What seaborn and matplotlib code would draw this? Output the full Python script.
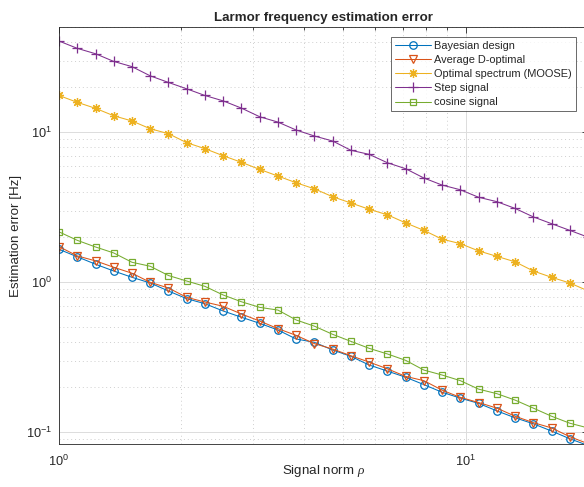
import numpy as np
import pandas as pd
import matplotlib
matplotlib.use("Agg")
import matplotlib.pyplot as plt
from matplotlib.ticker import LogLocator, NullFormatter
import seaborn as sns

# ---- data -------------------------------------------------------------
rho = [1.000, 1.109, 1.230, 1.363, 1.512, 1.676, 1.859, 2.061, 2.285, 2.534,
       2.810, 3.116, 3.455, 3.831, 4.248, 4.710, 5.223, 5.791, 6.421, 7.120,
       7.895, 8.754, 9.707, 10.763, 11.935, 13.234, 14.674, 16.271, 18.042, 20.0]

bayesian = [1.66, 1.48, 1.32, 1.19, 1.08, 0.99, 0.875, 0.778, 0.720, 0.644,
            0.585, 0.533, 0.481, 0.419, 0.398, 0.354, 0.321, 0.281, 0.256, 0.233,
            0.208, 0.185, 0.169, 0.156, 0.139, 0.125, 0.114, 0.102, 0.0906, 0.0817]

d_optimal = [1.73, 1.50, 1.39, 1.26, 1.15, 1.00, 0.916, 0.794, 0.739, 0.692,
             0.615, 0.552, 0.491, 0.443, 0.390, 0.359, 0.324, 0.294, 0.265, 0.236,
             0.221, 0.191, 0.171, 0.158, 0.145, 0.128, 0.116, 0.107, 0.0935, 0.084]

moose = [17.6, 15.85, 14.45, 12.9, 11.9, 10.57, 9.79, 8.53, 7.78, 6.98,
         6.31, 5.66, 5.11, 4.61, 4.20, 3.72, 3.38, 3.07, 2.82, 2.49,
         2.22, 1.94, 1.81, 1.62, 1.49, 1.37, 1.19, 1.08, 0.99, 0.877]

step = [40.6, 36.3, 33.4, 29.7, 27.4, 23.8, 21.5, 19.5, 17.6, 16.2,
        14.5, 12.7, 11.7, 10.36, 9.45, 8.75, 7.59, 7.13, 6.27, 5.72,
        4.96, 4.45, 4.14, 3.69, 3.45, 3.11, 2.73, 2.46, 2.22, 2.0]

cosine = [2.17, 1.905, 1.72, 1.57, 1.36, 1.28, 1.11, 1.02, 0.94, 0.823,
          0.742, 0.681, 0.653, 0.561, 0.510, 0.450, 0.404, 0.363, 0.333, 0.302,
          0.260, 0.241, 0.221, 0.194, 0.181, 0.164, 0.145, 0.128, 0.115, 0.107]

labels = ["Bayesian design", "Average D-optimal", "Optimal spectrum (MOOSE)",
          "Step signal", "cosine signal"]
series = [bayesian, d_optimal, moose, step, cosine]

colors = ["#0072BD", "#D95319", "#EDB120", "#7E2F8E", "#77AC30"]
markers = ["o", "v", (8, 2, 0), "+", "s"]
msizes = [5.4, 5.4, 6.5, 7.5, 5.0]

# ---- style ------------------------------------------------------------
sns.set_style("white")
plt.rcParams["font.family"] = ["Liberation Sans", "DejaVu Sans"]
plt.rcParams["mathtext.fontset"] = "custom"
plt.rcParams["mathtext.it"] = "Liberation Serif:italic"
plt.rcParams["mathtext.rm"] = "Liberation Sans"

fig = plt.figure(figsize=(5.84, 4.87), dpi=100)
ax = fig.add_axes([59 / 584, 42.7 / 487, 529 / 584, 417.6 / 487])

df_list = []
for lab, vals in zip(labels, series):
    df_list.append(pd.DataFrame({"rho": rho, "err": vals, "method": lab}))
df = pd.concat(df_list, ignore_index=True)

for lab, col, mk, ms in zip(labels, colors, markers, msizes):
    sub = df[df["method"] == lab]
    sns.lineplot(data=sub, x="rho", y="err", ax=ax, color=col, marker=mk,
                 markersize=ms, markerfacecolor="none", markeredgecolor=col,
                 markeredgewidth=0.9, linewidth=0.75, label=lab,
                 estimator=None, sort=False)

ax.set_xscale("log")
ax.set_yscale("log")
ax.set_xlim(1, 20)
ax.set_ylim(0.0832, 50.6)

# grids
ax.xaxis.set_major_locator(LogLocator(base=10, numticks=10))
ax.yaxis.set_major_locator(LogLocator(base=10, numticks=10))
ax.xaxis.set_minor_locator(LogLocator(base=10, subs=np.arange(2, 10), numticks=20))
ax.yaxis.set_minor_locator(LogLocator(base=10, subs=np.arange(2, 10), numticks=20))
ax.xaxis.set_minor_formatter(NullFormatter())
ax.yaxis.set_minor_formatter(NullFormatter())
ax.grid(True, which="major", color="#dcdcdc", linewidth=0.7, linestyle="-")
ax.grid(True, which="minor", color="#cfcfcf", linewidth=0.7, linestyle=(0, (1, 3)))
ax.set_axisbelow(True)

for sp in ax.spines.values():
    sp.set_color("#262626")
    sp.set_linewidth(0.6)
ax.tick_params(which="both", direction="in", top=True, right=True,
               colors="#262626", labelsize=9.2, width=0.6)
ax.tick_params(which="major", length=4.5)
ax.tick_params(which="minor", length=2.5)
ax.tick_params(axis="x", which="major", pad=7)
ax.tick_params(axis="y", which="major", pad=5)

ax.set_xlabel(r"Signal norm $\rho$", fontsize=9.6)
ax.xaxis.set_label_coords(0.5, -0.045)
ax.set_ylabel("Estimation error [Hz]", fontsize=9.6, labelpad=3)
ax.set_title("Larmor frequency estimation error", fontsize=9.6,
             fontweight="bold", pad=4)

leg = ax.legend(loc="upper left", bbox_to_anchor=(332 / 529, 1 - 10.6 / 417.6),
                fontsize=7.9, frameon=True, fancybox=False, borderpad=0.35,
                labelspacing=0.37, handlelength=3.3, handletextpad=0.3,
                borderaxespad=0)
leg.get_frame().set_edgecolor("#262626")
leg.get_frame().set_linewidth(0.6)

fig.savefig("out.png", dpi=100)
